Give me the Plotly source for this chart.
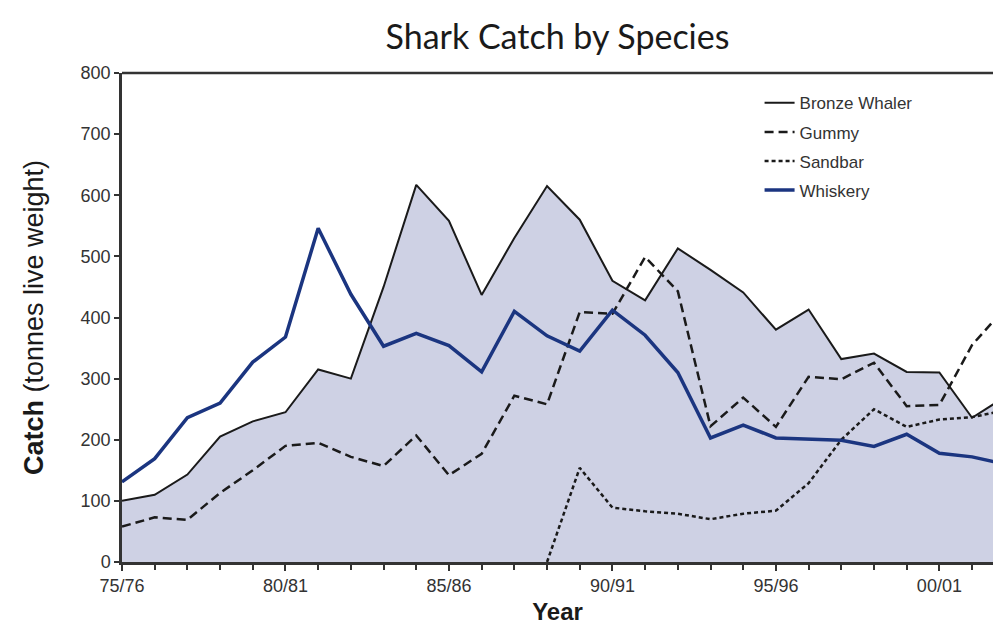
import plotly.graph_objects as go

seasons = ["75/76", "76/77", "77/78", "78/79", "79/80", "80/81", "81/82", "82/83", "83/84",
           "84/85", "85/86", "86/87", "87/88", "88/89", "89/90", "90/91", "91/92", "92/93",
           "93/94", "94/95", "95/96", "96/97", "97/98", "98/99", "99/00", "00/01", "01/02", "02/03"]

bronze_whaler = [100, 110, 143, 205, 230, 245, 315, 300, 450, 617, 558, 437, 530, 615,
                 560, 460, 428, 513, 478, 441, 380, 413, 332, 341, 311, 310, 236, 270]
gummy = [58, 73, 69, 113, 150, 190, 195, 172, 157, 207, 142, 177, 272, 258,
         409, 406, 499, 443, 222, 269, 221, 303, 299, 326, 255, 257, 355, 415]
sandbar = [None, None, None, None, None, None, None, None, None, None, None, None, None, 0,
           154, 89, 83, 79, 70, 79, 84, 129, 200, 250, 221, 233, 237, 248]
whiskery = [131, 169, 236, 260, 327, 368, 546, 438, 353, 374, 354, 311, 410, 370,
            345, 412, 371, 310, 203, 224, 203, 201, 199, 189, 209, 178, 172, 160]

tick_vals = [0, 5, 10, 15, 20, 25]
tick_text = ["75/76", "80/81", "85/86", "90/91", "95/96", "00/01"]

x = list(range(len(seasons)))

fig = go.Figure()
# shaded area under Bronze Whaler (no legend entry)
fig.add_trace(go.Scatter(x=x, y=bronze_whaler, mode="lines", showlegend=False,
                         line=dict(width=0, color="rgba(0,0,0,0)"), fill="tozeroy",
                         fillcolor="#CED1E4", hoverinfo="skip"))
fig.add_trace(go.Scatter(x=x, y=bronze_whaler, name="Bronze Whaler", mode="lines",
                         line=dict(color="#1a1a1a", width=2), legendgroup="a", text=seasons))
fig.add_trace(go.Scatter(x=x, y=gummy, name="Gummy", mode="lines",
                         line=dict(color="#1a1a1a", width=2.5, dash="9px,5px"),
                         legendgroup="b", text=seasons))
fig.add_trace(go.Scatter(x=x, y=sandbar, name="Sandbar", mode="lines",
                         line=dict(color="#1a1a1a", width=2.5, dash="4px,3px"),
                         legendgroup="c", text=seasons))
fig.add_trace(go.Scatter(x=x, y=whiskery, name="Whiskery", mode="lines",
                         line=dict(color="#1b3580", width=3.5),
                         legendgroup="d", text=seasons))

axis_font = dict(family="Liberation Sans, Arial, sans-serif", size=18, color="#333333")

fig.update_layout(
    width=993, height=631,
    margin=dict(l=122, r=0, t=73, b=69),
    paper_bgcolor="white", plot_bgcolor="white",
    title=dict(text="Shark Catch by Species", x=0.5, xref="paper", xanchor="center",
               y=1 - 37 / 631, yref="container", yanchor="middle",
               font=dict(family="Lato, sans-serif", size=34, color="#1a1a1a")),
    showlegend=True,
    legend=dict(x=0.732, y=0.975, xanchor="left", yanchor="top",
                bgcolor="rgba(0,0,0,0)", tracegroupgap=4,
                font=dict(family="Liberation Sans, Arial, sans-serif", size=17, color="#333333")),
    xaxis=dict(range=[0, 26.64], tickvals=tick_vals, ticktext=tick_text,
               ticks="outside", ticklen=6, tickwidth=1.5, tickcolor="#333333",
               minor=dict(dtick=1, ticks="outside", ticklen=5, tickwidth=1.5, tickcolor="#333333"),
               showline=True, linecolor="#333333", linewidth=2.5,
               showgrid=False, zeroline=False, tickfont=axis_font,
               title=dict(text="<b>Year</b>", standoff=8,
                          font=dict(family="Liberation Sans, Arial, sans-serif", size=24, color="#1a1a1a"))),
    yaxis=dict(range=[0, 800], dtick=100, ticks="outside", ticklen=5, tickwidth=1.5,
               tickcolor="#333333", showline=True, linecolor="#333333", linewidth=2.5,
               showgrid=False, zeroline=False, tickfont=axis_font,
               title=dict(text="<b>Catch</b> (tonnes live weight)", standoff=30,
                          font=dict(family="Liberation Sans, Arial, sans-serif", size=27, color="#1a1a1a"))),
    shapes=[dict(type="line", xref="paper", yref="paper", x0=0, x1=1, y0=1, y1=1,
                 line=dict(color="#333333", width=2.5))],
)

fig.write_html("out.html", config={"displayModeBar": False},
               post_script="document.body.style.margin='0';")
